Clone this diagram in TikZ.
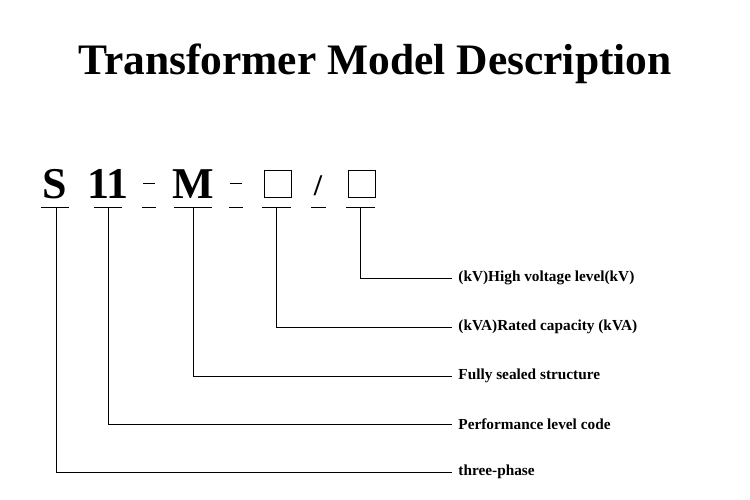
\documentclass[tikz,border=0pt]{standalone}
\usepackage{fontspec}
\setmainfont{Liberation Serif}
\begin{document}
\begin{tikzpicture}[x=1pt,y=-1pt,line width=0.9pt,
  big/.style={font=\fontsize{44}{44}\selectfont\bfseries,anchor=base,inner sep=0},
  lab/.style={font=\fontsize{15.3}{15.3}\selectfont\bfseries,anchor=west,inner sep=0}]
\useasboundingbox (0,0) rectangle (750,500);
\node[font=\fontsize{43.5}{43.5}\selectfont\bfseries,anchor=base] (title) at (375,75) {Transformer Model Description};
\node[big] (s) at (55,198) {S};
\node[big] (e) at (108,198) {11};
\node[big] (m) at (193,198) {M};
\node[font=\fontsize{30}{30}\selectfont\bfseries,anchor=base,inner sep=0] (sl) at (318,196) {/};
\draw (143,183) -- (155,183);
\draw (230,183) -- (242,183);
\draw (264,170) rectangle (291,197);
\draw (348,170) rectangle (375,197);
\foreach \a/\b in {41/69,94/122,142/156,174/212,229/243,262/291,311/326,346/375}
  \draw (\a,207) -- (\b,207);
\node[lab] (l1) at (458,278) {(kV)High voltage level(kV)};
\node[lab] (l2) at (458,327) {(kVA)Rated capacity (kVA)};
\node[lab] (l3) at (458,376) {Fully sealed structure};
\node[lab] (l4) at (458,424) {Performance level code};
\node[lab] (l5) at (458,472) {three-phase};
\coordinate (c1) at (360,207); \coordinate (c2) at (276,207);
\coordinate (c3) at (193,207); \coordinate (c4) at (108,207); \coordinate (c5) at (56,207);
\draw (c1) |- ([xshift=-6pt]l1.west);
\draw (c2) |- ([xshift=-6pt]l2.west);
\draw (c3) |- ([xshift=-6pt]l3.west);
\draw (c4) |- ([xshift=-6pt]l4.west);
\draw (c5) |- ([xshift=-6pt]l5.west);
\end{tikzpicture}
\end{document}
